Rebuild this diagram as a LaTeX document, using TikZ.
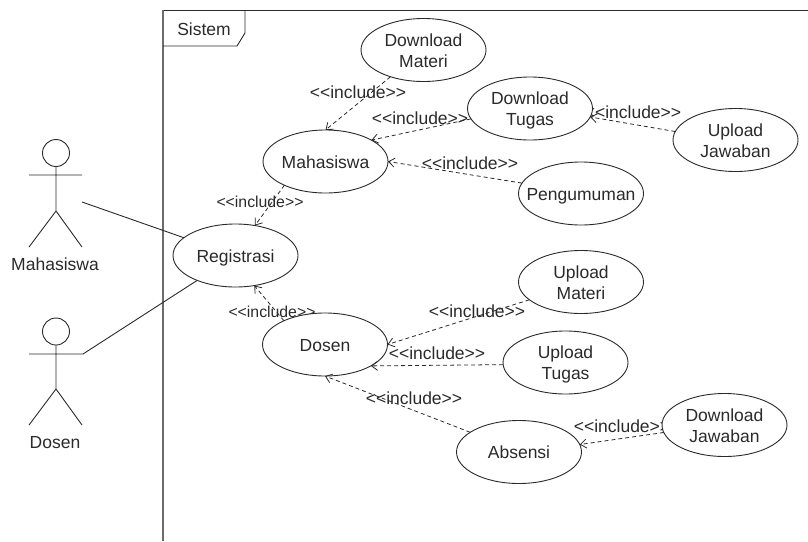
\documentclass[tikz,border=0pt]{standalone}
\usepackage{fontspec}
\setmainfont[Ligatures=NoCommon]{Liberation Sans}
\usetikzlibrary{shapes.geometric,arrows.meta,backgrounds}
\definecolor{ink}{HTML}{2A2A2A}
\newcommand{\uctext}[1]{\smash{\makebox[0pt]{\raisebox{-7pt}{\begin{tabular}{@{}c@{}}#1\end{tabular}}}}}
\newcommand{\incl}{<{}<include>{}>}
\tikzset{
  x=1pt,y=-1pt,
  every node/.style={font=\fontsize{17.5}{21}\selectfont,text=ink},
  usecase/.style={ellipse,draw=ink,line width=0.9pt,fill=white,minimum width=125pt,minimum height=63pt,inner sep=0pt,outer sep=0pt},
  inc/.style={draw=ink,line width=0.8pt,dash pattern=on 4pt off 3pt,-{Straight Barb[length=6pt,width=9pt]}},
  assoc/.style={draw=ink,line width=0.9pt},
  limb/.style={draw=ink,line width=0.9pt},
  head/.style={circle,draw=ink,line width=0.9pt,minimum size=27pt,inner sep=0pt,outer sep=0pt},
  lbl/.style={inner sep=0pt},
  lblsmall/.style={inner sep=0pt,font=\fontsize{15.8}{19}\selectfont},
}
\begin{document}
\begin{tikzpicture}
\useasboundingbox (0,0) rectangle (808,541);
% frame
\draw[ink,line width=0.9pt] (163,10) -- (808,10);
\draw[gray!85!black,line width=1.4pt] (163,10) -- (163,541);
\draw[ink,line width=0.9pt] (163,46) -- (237,46) -- (245,33) -- (245,10);
\node[lbl] (sys) at (204,29) {Sistem};
% use cases
\node[usecase] (dm) at (423.5,50) {\uctext{Download\\Materi}};
\node[usecase] (dt) at (530,108.5) {\uctext{Download\\Tugas}};
\node[usecase] (uj) at (735.5,140) {\uctext{Upload\\Jawaban}};
\node[usecase] (pg) at (581,193.5) {\uctext{Pengumuman}};
\node[usecase] (mh) at (325.5,161.5) {\uctext{Mahasiswa}};
\node[usecase] (rg) at (235.5,255.5) {\uctext{Registrasi}};
\node[usecase] (ds) at (325,344.5) {\uctext{Dosen}};
\node[usecase] (um) at (581,282) {\uctext{Upload\\Materi}};
\node[usecase] (ut) at (565.5,362.5) {\uctext{Upload\\Tugas}};
\node[usecase] (dj) at (724.5,425) {\uctext{Download\\Jawaban}};
\node[usecase] (ab) at (519,452) {\uctext{Absensi}};
% labels sit behind the ellipses
\begin{scope}[on background layer]
\node[lbl] (l1) at (358,92) {\incl};
\node[lbl] (l2) at (420,118) {\incl};
\node[lbl] (l3) at (633,112) {\incl};
\node[lbl] (l4) at (470,163) {\incl};
\node[lblsmall] (l5) at (260,201.5) {\incl};
\node[lblsmall] (l6) at (272,312) {\incl};
\node[lbl] (l7) at (477,311) {\incl};
\node[lbl] (l8) at (437,353) {\incl};
\node[lbl] (l9) at (414,398.5) {\incl};
\node[lbl] (l10) at (622,426) {\incl};
\end{scope}
% include connectors
\draw[inc] (dm.219) -- (mh.north);
\draw[inc] (dt.190) -- (mh.25);
\draw[inc] (uj.172) -- (dt.-8);
\draw[inc] (pg.170) -- (mh.east);
\draw[inc] (mh.210) -- (rg.57);
\draw[inc] (ds.150) -- (rg.-58);
\draw[inc] (um.199) -- (ds.east);
\draw[inc] (ut.182) -- (ds.-25.6);
\draw[inc] (ab.158.6) -- (ds.south);
\draw[inc] (dj.187.5) -- (ab.7);
% actor Mahasiswa
\node[head] (h1) at (56,153) {};
\coordinate (a1l) at (29,175);
\coordinate (a1r) at (82,175);
\coordinate (a1h) at (56,211);
\coordinate (a1f) at (29,247);
\coordinate (a1g) at (82,247);
\draw[limb] (h1.south) -- (a1h) (a1l) -- (a1r) (a1f) -- (a1h) -- (a1g);
\node[lbl] (n1) at (55,264) {Mahasiswa};
% actor Dosen
\node[head] (h2) at (56,331.5) {};
\coordinate (a2l) at (29,354);
\coordinate (a2r) at (83,354);
\coordinate (a2h) at (56,389);
\coordinate (a2f) at (29,425);
\coordinate (a2g) at (82,425);
\draw[limb] (h2.south) -- (a2h) (a2l) -- (a2r) (a2f) -- (a2h) -- (a2g);
\node[lbl] (n2) at (55,443) {Dosen};
% associations
\coordinate (a1free) at (82,202);
\draw[assoc] (a1free) -- (rg.161);
\draw[assoc] (a2r) -- (rg.213);
\end{tikzpicture}
\end{document}
